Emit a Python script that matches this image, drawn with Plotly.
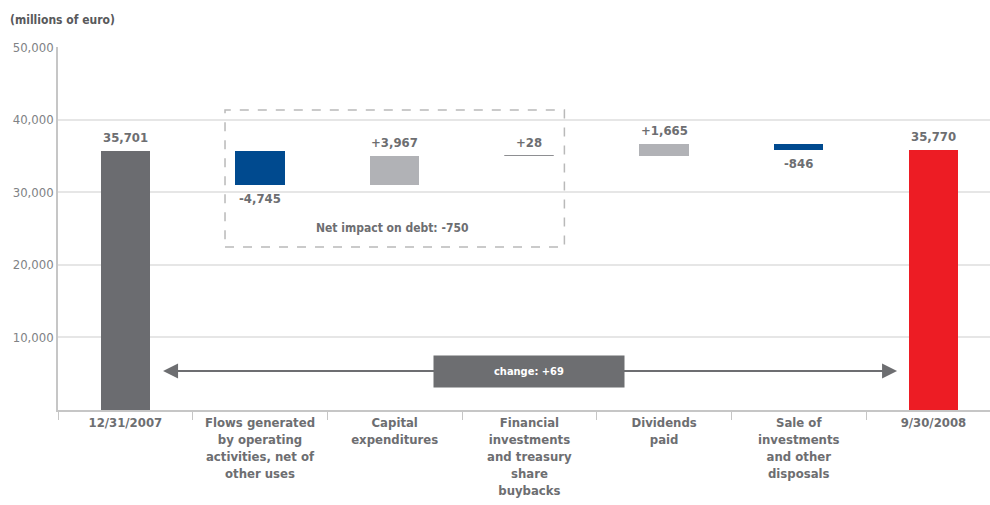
import plotly.graph_objects as go

# ---- data ----
categories = [
    "12/31/2007",
    "Flows generated<br>by operating<br>activities, net of<br>other uses",
    "Capital<br>expenditures",
    "Financial<br>investments<br>and treasury<br>share<br>buybacks",
    "Dividends<br>paid",
    "Sale of<br>investments<br>and other<br>disposals",
    "9/30/2008",
]
values = [35701, -4745, 3967, 28, 1665, -846, 35770]
kinds = ["total", "delta", "delta", "delta", "delta", "delta", "total"]
value_labels = ["35,701", "-4,745", "+3,967", "+28", "+1,665", "-846", "35,770"]
bar_colors = ["#6b6c70", "#004a8f", "#b1b2b6", "#8e8f92", "#b1b2b6", "#004a8f", "#ed1c24"]
y_ticks = [10000, 20000, 30000, 40000, 50000]
y_tick_labels = ["10,000", "20,000", "30,000", "40,000", "50,000"]
change_label = "change: +69"
net_impact_label = "Net impact on debt: -750"
unit_label = "(millions of euro)"

# ---- compute waterfall bases ----
bases, heights = [], []
running = 0
for v, k in zip(values, kinds):
    if k == "total":
        bases.append(0)
        heights.append(v)
        running = v
    else:
        bases.append(running if v > 0 else running + v)
        heights.append(abs(v))
        running += v

TXT = "#6d6e71"
FONT = "DejaVu Sans Condensed, Liberation Sans Narrow, sans-serif"

fig = go.Figure()
fig.add_trace(go.Bar(
    x=categories, y=heights, base=bases, width=0.365,
    marker=dict(color=bar_colors,
                line=dict(color=bar_colors, width=[0, 0, 0, 1, 0, 0, 0])),
    hoverinfo="skip", showlegend=False,
))

annotations = []
for i, (c, v, k, b, h, lab) in enumerate(zip(categories, values, kinds, bases, heights, value_labels)):
    above = (k == "total") or (v > 0)
    annotations.append(dict(
        x=c, y=(b + h) if above else b, xref="x", yref="y",
        text="<b>" + lab + "</b>", showarrow=False,
        yanchor="bottom" if above else "top",
        yshift=4 if above else -4,
        font=dict(family=FONT, size=13, color=TXT),
    ))

arrow_y = 5372
for tip in (0.28, 5.73):
    annotations.append(dict(
        x=tip, y=arrow_y, xref="x", yref="y",
        ax=3.0, ay=arrow_y, axref="x", ayref="y",
        text="", showarrow=True, arrowhead=2, arrowsize=1.5,
        arrowwidth=2, arrowcolor="#6d6e71",
    ))
annotations.append(dict(
    x=3.0, y=arrow_y, xref="x", yref="y", showarrow=False,
    text="<b>" + change_label + "</b>", width=190, height=31,
    bgcolor="#6d6e71", borderpad=0,
    font=dict(family=FONT, size=11, color="white"),
))
annotations.append(dict(
    x=1.98, y=25069, xref="x", yref="y", showarrow=False,
    text="<b>" + net_impact_label + "</b>",
    font=dict(family=FONT, size=12, color=TXT),
))

fig.add_shape(type="rect", x0=0.74, x1=3.26, y0=22452, y1=41322,
              xref="x", yref="y",
              line=dict(color="#b9b9b9", width=1.5, dash="dash"),
              fillcolor="rgba(0,0,0,0)")

fig.update_layout(
    width=990, height=505,
    margin=dict(l=58, r=0, t=47, b=95),
    plot_bgcolor="white", paper_bgcolor="white",
    font=dict(family=FONT, color=TXT),
    title=dict(text="<b>" + unit_label + "</b>", x=10 / 990, xanchor="left",
               y=1 - 20 / 505, yanchor="middle",
               font=dict(family=FONT, size=12, color="#58595b")),
    annotations=annotations,
    bargap=0,
)
fig.update_xaxes(
    type="category", range=[-0.5, 6.42],
    tickvals=categories, ticktext=["<b>" + c + "</b>" for c in categories],
    showline=True, linecolor="#c6c6c6", linewidth=1.5,
    ticks="outside", tickson="boundaries", ticklen=8, tickcolor="#c6c6c6",
    tickfont=dict(family=FONT, size=13, color=TXT),
    showgrid=False, fixedrange=True,
)
fig.update_yaxes(
    range=[0, 50000], tickvals=y_ticks, ticktext=y_tick_labels,
    showline=True, linecolor="#c6c6c6", linewidth=1.5,
    showgrid=True, gridcolor="#e6e6e6", gridwidth=1.5, zeroline=False,
    tickfont=dict(family=FONT, size=13, color="#808285"),
    ticks="", fixedrange=True,
)

fig.write_html("out.html", config={"displayModeBar": False},
               post_script="document.body.style.margin='0';document.body.style.padding='0';")
